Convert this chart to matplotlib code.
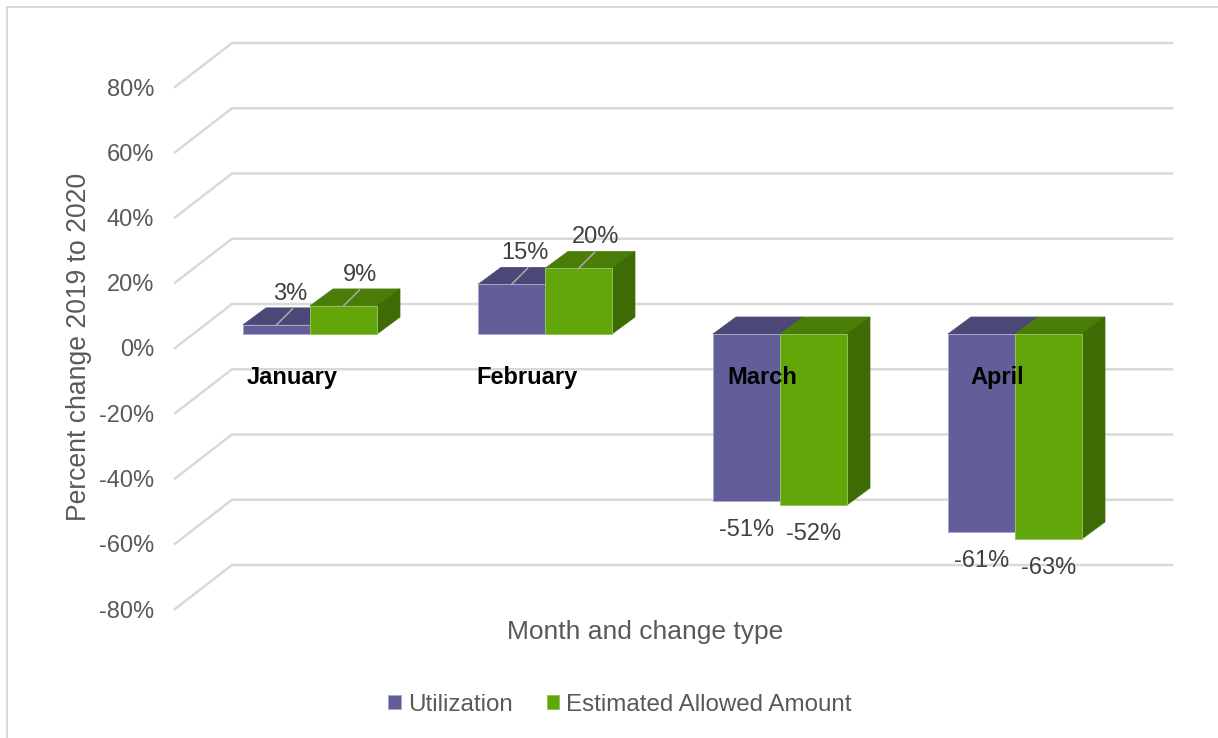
import matplotlib
matplotlib.use("Agg")
import matplotlib.pyplot as plt
from matplotlib.lines import Line2D
from matplotlib.patches import Polygon

months = ["January", "February", "March", "April"]
utilization = [2.8, 15.2, -51.3, -60.7]
allowed = [8.6, 20.1, -52.4, -62.8]
util_labels = ["3%", "15%", "-51%", "-61%"]
allowed_labels = ["9%", "20%", "-52%", "-63%"]
y_ticks = [80, 60, 40, 20, 0, -20, -40, -60, -80]

W, H = 1218, 738
PX_X = 235.0            # pixels per category
PX_Y = 522.0 / 160.0    # pixels per percent

plt.rcParams["font.family"] = ["Liberation Sans", "DejaVu Sans"]
fig = plt.figure(figsize=(W / 100, H / 100), dpi=100, facecolor="white")
ax = fig.add_axes([175 / W, 1 - 609 / H, 940 / W, 522 / H])
ax.set_xlim(0, 4)
ax.set_ylim(-80, 80)
ax.patch.set_alpha(0)

px = lambda p: p / PX_X
py = lambda p: p / PX_Y

# chart box frame (top and left only)
frame = dict(color="#d9d9d9", lw=1.4, transform=fig.transFigure)
fig.add_artist(Line2D([7 / W, 7 / W], [0, 1 - 7 / H], **frame))
fig.add_artist(Line2D([7 / W, 1], [1 - 7 / H, 1 - 7 / H], **frame))

# 3D walls
wall_dx, wall_dy = px(57), py(44)
for t in y_ticks:
    ax.plot([0, wall_dx, 4 + wall_dx], [t, t + wall_dy, t + wall_dy],
            color="#d9d9d9", lw=1.8, clip_on=False, zorder=1,
            solid_joinstyle="miter")

# bars
bar_w = px(67)
bar_shift_x, bar_shift_y = px(17.5), py(14)
bar_dx, bar_dy = px(23), py(17)

def draw_series(values, offset, front, top, side, edge, name, zorder):
    for i, v in enumerate(values):
        x0 = i + 0.5 + bar_shift_x + offset
        x1 = x0 + bar_w
        y0 = bar_shift_y
        yv = y0 + v
        y_top = max(y0, yv)
        y_low = min(y0, yv)
        ax.add_patch(Polygon([(x0, y_top), (x1, y_top),
                              (x1 + bar_dx, y_top + bar_dy),
                              (x0 + bar_dx, y_top + bar_dy)],
                             facecolor=top, edgecolor=top, lw=0.5,
                             zorder=zorder, clip_on=False))
        ax.add_patch(Polygon([(x1, y_low), (x1 + bar_dx, y_low + bar_dy),
                              (x1 + bar_dx, y_top + bar_dy), (x1, y_top)],
                             facecolor=side, edgecolor=side, lw=0.5,
                             zorder=zorder, clip_on=False))
    xs = [i + 0.5 + bar_shift_x + offset for i in range(len(values))]
    return ax.bar(xs, values, width=bar_w, bottom=bar_shift_y, align="edge",
                  color=front, edgecolor=edge, linewidth=0.7, label=name,
                  zorder=zorder + 0.1, clip_on=False)

draw_series(utilization, -bar_w, "#625e9a", "#4b4878", "#4b4878", "#a9a7cb",
            "Utilization", 2)
draw_series(allowed, 0, "#62a60a", "#4a7c08", "#3f6b05", "#8fc262",
            "Estimated Allowed Amount", 3)

# data labels with leader lines
def label_series(values, labels, offset, label_dx):
    for i, (v, s) in enumerate(zip(values, labels)):
        cx = i + 0.5 + bar_shift_x + offset + bar_w / 2
        edge_y = bar_shift_y + v
        if v > 0:
            ax.plot([cx, cx + px(16)], [edge_y, edge_y + py(16)],
                    color="#a6a6a6", lw=1.2, zorder=5, clip_on=False)
            tx, ty = cx + px(label_dx), edge_y + py(31)
        else:
            tx, ty = cx, edge_y - py(29)
        ax.text(tx, ty, s, ha="center", va="center", fontsize=17,
                color="#404040", zorder=6)

label_series(utilization, util_labels, -bar_w, 13.5)
label_series(allowed, allowed_labels, 0, 17)

# axes furniture
for s in ax.spines.values():
    s.set_visible(False)
ax.set_yticks(y_ticks)
ax.set_yticklabels([f"{t}%" for t in y_ticks])
ax.tick_params(axis="y", length=0, pad=15, labelsize=17, labelcolor="#595959")
ax.spines["bottom"].set_position(("data", 0))
ax.set_xticks([i + 0.5 for i in range(len(months))])
ax.set_xticklabels(months)
ax.tick_params(axis="x", length=0, pad=13, labelsize=17, labelcolor="black")
for lab in ax.get_xticklabels():
    lab.set_fontweight("bold")
ax.xaxis.set_zorder(10)

ax.set_xlabel("Month and change type", fontsize=19, color="#595959", va="center")
ax.xaxis.set_label_coords(645 / W, 1 - 632 / H, transform=fig.transFigure)
ax.set_ylabel("Percent change 2019 to 2020", fontsize=19.1, color="#595959",
              va="center", ha="center")
ax.yaxis.set_label_coords(79 / W, 1 - 347 / H, transform=fig.transFigure)

leg = ax.legend(loc="center", bbox_to_anchor=(620 / W, 1 - 705 / H),
                bbox_transform=fig.transFigure, ncol=2, frameon=False,
                fontsize=17.4, handlelength=0.52, handleheight=0.52,
                handletextpad=0.3, columnspacing=1.4, labelcolor="#595959")

fig.savefig("out.png", dpi=100, facecolor="white")
